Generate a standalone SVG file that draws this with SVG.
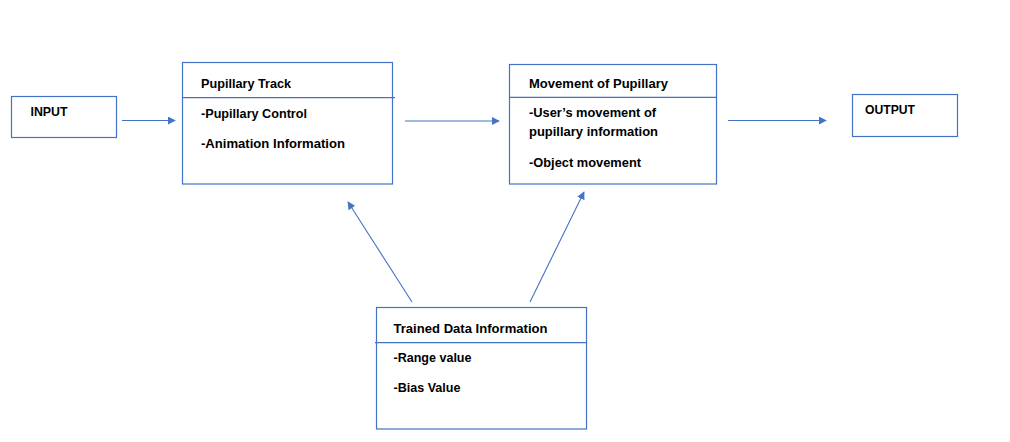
<svg xmlns="http://www.w3.org/2000/svg" width="1010" height="442" viewBox="0 0 1010 442">
<style>
.box{fill:#fff;stroke:#4472C4;stroke-width:1.2}
.div{stroke:#4472C4;stroke-width:1.2;fill:none}
.t{font-family:"Liberation Sans",Arial,sans-serif;font-weight:bold;font-size:13px;fill:#000}
.c{stroke:#4472C4;stroke-width:1.1;fill:none;marker-end:url(#ah)}
</style>
<defs>
<marker id="ah" viewBox="0 0 10 10" refX="9" refY="5" markerWidth="8" markerHeight="8" markerUnits="userSpaceOnUse" orient="auto">
<path d="M0,0 L10,5 L0,10 z" fill="#4472C4"/>
</marker>
</defs>
<rect width="1010" height="442" fill="#fff"/>
<g id="connectors">
<line class="c" x1="122" y1="120.5" x2="175" y2="120.5"/>
<line class="c" x1="405" y1="121" x2="499" y2="121"/>
<line class="c" x1="728" y1="120.5" x2="826" y2="120.5"/>
<line class="c" x1="412" y1="302" x2="348" y2="202"/>
<line class="c" x1="530" y1="302" x2="584" y2="192"/>
</g>
<g id="input">
<rect class="box" x="11.5" y="96.5" width="105" height="41"/>
<text class="t" x="30.5" y="116" textLength="37" lengthAdjust="spacingAndGlyphs">INPUT</text>
</g>
<g id="pupillary-track">
<rect class="box" x="182.5" y="62.5" width="210" height="121.5"/>
<line class="div" x1="182.5" y1="97.7" x2="395" y2="97.7"/>
<text class="t" x="201" y="88" textLength="90" lengthAdjust="spacingAndGlyphs">Pupillary Track</text>
<text class="t" x="201" y="118" textLength="106" lengthAdjust="spacingAndGlyphs">-Pupillary Control</text>
<text class="t" x="201" y="148" textLength="144" lengthAdjust="spacingAndGlyphs">-Animation Information</text>
</g>
<g id="movement">
<rect class="box" x="509.5" y="64.5" width="207" height="119.5"/>
<line class="div" x1="509.5" y1="97.3" x2="716.5" y2="97.3"/>
<text class="t" x="529" y="88" textLength="139" lengthAdjust="spacingAndGlyphs">Movement of Pupillary</text>
<text class="t" x="529" y="117" textLength="127" lengthAdjust="spacingAndGlyphs">-User’s movement of</text>
<text class="t" x="529" y="136" textLength="129" lengthAdjust="spacingAndGlyphs">pupillary information</text>
<text class="t" x="529" y="167" textLength="112" lengthAdjust="spacingAndGlyphs">-Object movement</text>
</g>
<g id="output">
<rect class="box" x="852.5" y="94.5" width="105" height="42"/>
<text class="t" x="865" y="114" textLength="50" lengthAdjust="spacingAndGlyphs">OUTPUT</text>
</g>
<g id="trained-data">
<rect class="box" x="376.5" y="307.5" width="210" height="121.5"/>
<line class="div" x1="375" y1="342.7" x2="586.5" y2="342.7"/>
<text class="t" x="393.5" y="333" textLength="154" lengthAdjust="spacingAndGlyphs">Trained Data Information</text>
<text class="t" x="393.5" y="362" textLength="78" lengthAdjust="spacingAndGlyphs">-Range value</text>
<text class="t" x="393.5" y="392" textLength="67" lengthAdjust="spacingAndGlyphs">-Bias Value</text>
</g>
</svg>
